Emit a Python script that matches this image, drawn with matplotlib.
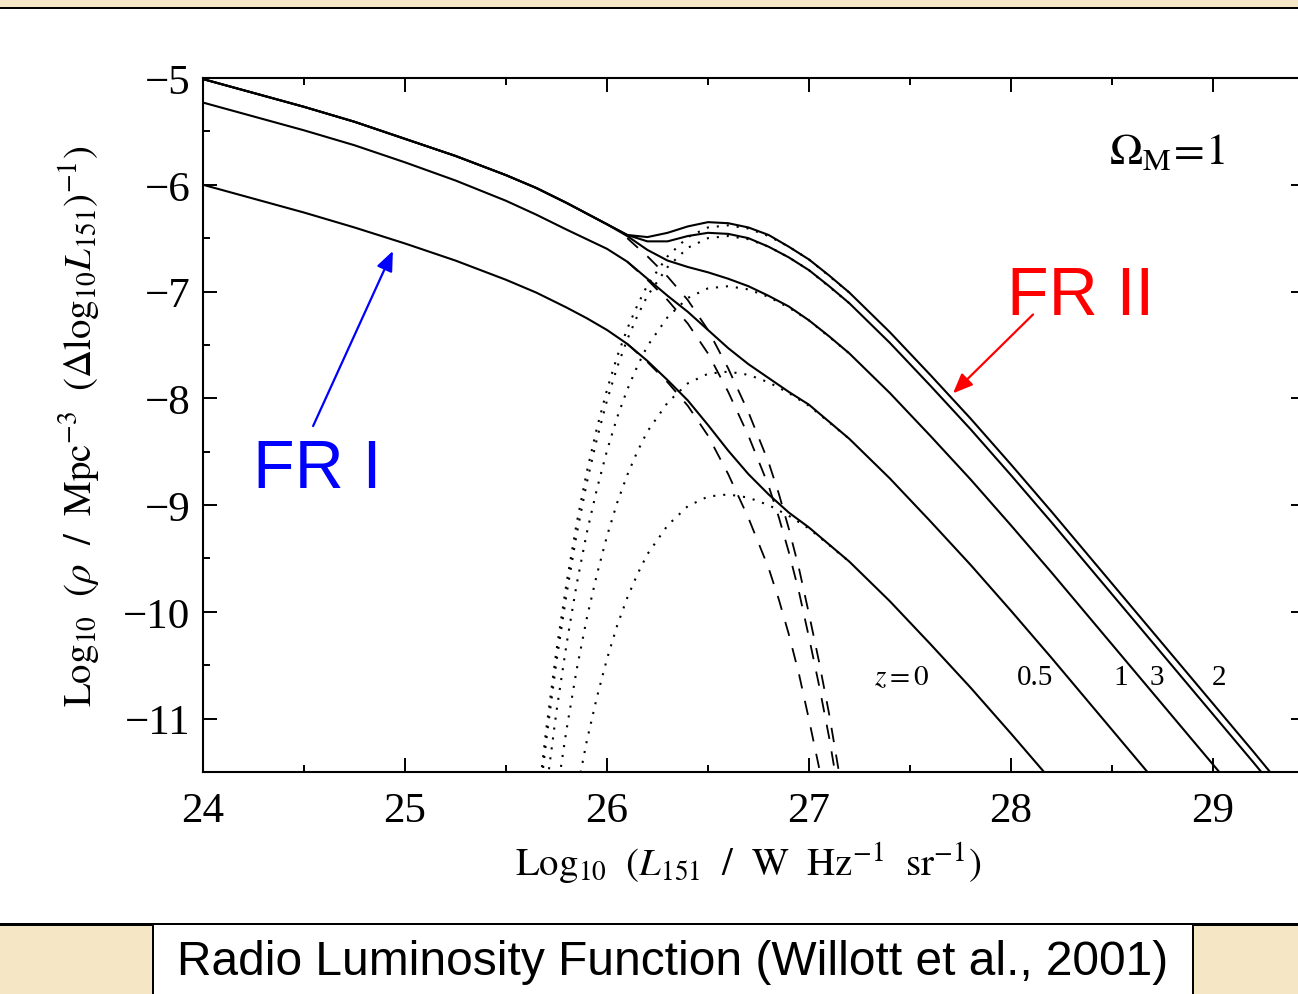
import numpy as np
import matplotlib as mpl
mpl.use('Agg')
from matplotlib import pyplot as plt
from matplotlib.patches import Rectangle

# log10 L151 grid for the total luminosity functions (solid lines)
logL = [24.0, 24.25, 24.5, 24.75, 25.0, 25.25, 25.5, 25.65, 25.8, 25.9, 26.0,
        26.1, 26.2, 26.3, 26.4, 26.5, 26.6, 26.7, 26.8, 26.9, 27.0, 27.1, 27.2,
        27.4, 27.6, 27.8, 28.0, 28.2, 28.4, 28.6, 28.8, 29.0, 29.2, 29.4]

# total rho at each redshift
total_z0 = [-6.00, -6.13, -6.26, -6.40, -6.55, -6.71, -6.89, -7.01, -7.15, -7.25, -7.36,
            -7.49, -7.65, -7.83, -8.02, -8.25, -8.49, -8.71, -8.90, -9.07, -9.21, -9.37,
            -9.53, -9.90, -10.30, -10.71, -11.14, -11.58]
total_z05 = [-5.23, -5.36, -5.49, -5.63, -5.79, -5.96, -6.15, -6.28, -6.42, -6.51, -6.60,
             -6.72, -6.88, -7.04, -7.19, -7.36, -7.53, -7.68, -7.81, -7.94, -8.06, -8.22,
             -8.38, -8.75, -9.15, -9.56, -9.99, -10.43, -10.88, -11.33, -11.78]
total_z1 = [-5.01, -5.14, -5.27, -5.41, -5.57, -5.73, -5.91, -6.03, -6.17, -6.27, -6.37,
            -6.48, -6.61, -6.71, -6.77, -6.82, -6.88, -6.95, -7.04, -7.14, -7.27, -7.42,
            -7.58, -7.95, -8.35, -8.76, -9.19, -9.63, -10.08, -10.53, -10.98, -11.43,
            -11.88]
total_z2 = [-5.01, -5.14, -5.27, -5.41, -5.57, -5.73, -5.91, -6.03, -6.17, -6.27, -6.37,
            -6.47, -6.49, -6.45, -6.39, -6.35, -6.36, -6.40, -6.47, -6.58, -6.70, -6.85,
            -7.01, -7.38, -7.78, -8.19, -8.62, -9.06, -9.51, -9.96, -10.41, -10.86,
            -11.31, -11.77]
total_z3 = [-5.01, -5.14, -5.27, -5.41, -5.57, -5.73, -5.91, -6.03, -6.17, -6.27, -6.37,
            -6.47, -6.53, -6.53, -6.48, -6.45, -6.46, -6.50, -6.58, -6.68, -6.80, -6.95,
            -7.11, -7.48, -7.88, -8.29, -8.72, -9.16, -9.61, -10.06, -10.51, -10.96,
            -11.41, -11.87]

# low-luminosity (FR I) population, dashed
fr1_logL = [26.1, 26.2, 26.3, 26.4, 26.5, 26.6, 26.7, 26.8, 26.85, 26.9, 26.95,
            27.0, 27.05, 27.1, 27.15, 27.2]
fr1_z0 = [-7.49, -7.66, -7.85, -8.07, -8.35, -8.71, -9.12, -9.59, -9.88, -10.21,
          -10.58, -11.01, -11.46, -11.95]
fr1_z05 = [-6.72, -6.89, -7.08, -7.30, -7.58, -7.94, -8.35, -8.82, -9.11, -9.44,
           -9.81, -10.24, -10.69, -11.18, -11.74]
fr1_z1 = [-6.50, -6.67, -6.86, -7.08, -7.36, -7.72, -8.13, -8.60, -8.89, -9.22,
          -9.59, -10.02, -10.47, -10.96, -11.52, -12.14]

# high-luminosity (FR II) population, dotted
fr2_logL = [25.65, 25.70, 25.75, 25.80, 25.85, 25.90, 25.95, 26.00, 26.05, 26.10, 26.15,
            26.20, 26.30, 26.40, 26.50, 26.60, 26.70, 26.80, 26.90, 27.00, 27.20]
fr2_z2 = [-11.92, -11.09, -10.36, -9.73, -9.17, -8.69, -8.28, -7.92, -7.61, -7.35, -7.13,
          -6.94, -6.67, -6.49, -6.40, -6.38, -6.41, -6.48, -6.58, -6.70, -7.01]
fr2_z3 = [-12.02, -11.19, -10.46, -9.83, -9.27, -8.79, -8.38, -8.02, -7.71, -7.45, -7.23,
          -7.04, -6.77, -6.59, -6.50, -6.48, -6.51, -6.58, -6.68, -6.80, -7.11]
fr2_z1 = [-11.66, -10.93, -10.30, -9.74, -9.26, -8.85, -8.49, -8.18, -7.92, -7.70, -7.51,
          -7.24, -7.06, -6.97, -6.95, -6.98, -7.05, -7.15, -7.27, -7.58]
fr2_z05 = [-11.73, -11.10, -10.54, -10.06, -9.65, -9.29, -8.98, -8.72, -8.50, -8.31,
           -8.04, -7.86, -7.77, -7.75, -7.78, -7.85, -7.95, -8.07, -8.38]
fr2_z0 = [-11.69, -11.21, -10.80, -10.44, -10.13, -9.87, -9.65, -9.46, -9.19, -9.01,
          -8.92, -8.90, -8.93, -9.00, -9.10, -9.22, -9.53]

z_labels = ['$z=0$', '0.5', '1', '3', '2']
z_label_x = [27.46, 28.12, 28.545, 28.72, 29.03]

W, H = 1298, 995
parchment = '#f5e6c6'

plt.rcParams['mathtext.fontset'] = 'stix'
fig = plt.figure(figsize=(W / 100, H / 100), dpi=100)
fig.patch.set_facecolor('white')


def px_rect(x0, y0, x1, y1, **kw):
    # rectangle given in pixel coords from top-left corner
    fig.add_artist(Rectangle((x0 / W, 1 - y1 / H), (x1 - x0) / W, (y1 - y0) / H,
                             transform=fig.transFigure, **kw))


# slide frame: parchment strips, black rules and caption box
px_rect(0, 0, W, 7.5, facecolor=parchment, edgecolor='none')
px_rect(0, 7.5, W, 10, facecolor='black', edgecolor='none')
px_rect(0, 926, W, H, facecolor=parchment, edgecolor='none')
px_rect(0, 923.5, W, 926.5, facecolor='black', edgecolor='none')
px_rect(153, 926, 1193, H, facecolor='white', edgecolor='none')
px_rect(151.5, 926, 153.5, H, facecolor='black', edgecolor='none')
px_rect(1192, 926, 1194, H, facecolor='black', edgecolor='none')
fig.text(673 / W, 1 - 963 / H, 'Radio Luminosity Function (Willott et al., 2001)',
         ha='center', va='center', fontsize=34.5, family='Liberation Sans')

ax = fig.add_axes([203 / W, 1 - 773 / H, 1102 / W, 694 / H])

for v in [fr2_z0, fr2_z05, fr2_z1, fr2_z3, fr2_z2]:
    ax.plot(fr2_logL[-len(v):], v, color='black', lw=1.5, linestyle=(0, (1, 3.8)))
for v in [fr1_z0, fr1_z05, fr1_z1]:
    ax.plot(fr1_logL[:len(v)], v, color='black', lw=1.3, linestyle=(0, (8, 7)))
for v in [total_z0, total_z05, total_z1, total_z3, total_z2]:
    ax.plot(logL[:len(v)], v, color='black', lw=1.5)

ax.set_xlim(24, 24 + 1102 / 202)
ax.set_ylim(-11.5, -5)
ax.set_xticks(np.arange(24, 30, 1))
ax.set_xticks(np.arange(24, 29.5, 0.5), minor=True)
ax.set_yticks(np.arange(-11, -4, 1))
ax.set_yticks(np.arange(-11.5, -4.9, 0.5), minor=True)
ax.tick_params(which='both', direction='in', top=True, right=True, width=1.4,
               labelsize=31)
ax.tick_params(which='major', length=10)
ax.tick_params(which='minor', length=5)
ax.tick_params(axis='x', pad=14)
ax.tick_params(axis='y', pad=9)
for lab in ax.get_xticklabels() + ax.get_yticklabels():
    lab.set_family('Liberation Serif')
for s in ax.spines.values():
    s.set_linewidth(1.5)

ax.set_xlabel(r'$\mathrm{Log}_{10}\ \ (L_{151}\ \ /\ \ \mathrm{W\ \ Hz^{-1}\ \ sr^{-1}})$',
              fontsize=28)
ax.xaxis.set_label_coords(0.495, -0.098)
ax.set_ylabel(r'$\mathrm{Log}_{10}\ \ (\rho\ \ /\ \ \mathrm{Mpc^{-3}}\ \ '
              r'(\Delta\mathrm{log}_{10}L_{151})^{-1})$', fontsize=28)
ax.yaxis.set_label_coords(-0.092, 0.5)

ax.text(28.77, -5.68, r'$\Omega_{\mathrm{M}}\!=\!1$', fontsize=32,
        ha='center', va='center')
for lab, x in zip(z_labels, z_label_x):
    ax.text(x, -10.61, lab, fontsize=21, ha='center', va='center',
            family='Liberation Serif')

ax.text(24.248, -8.83, 'FR I', color='#0000ff', fontsize=49,
        family='Liberation Sans', ha='left', va='baseline')
ax.text(27.98, -7.206, 'FR II', color='#ff0000', fontsize=49,
        family='Liberation Sans', ha='left', va='baseline')
ax.annotate('', xy=(24.94, -6.62), xytext=(24.545, -8.26),
            arrowprops=dict(arrowstyle='-|>,head_length=0.6,head_width=0.25',
                            color='#0000ff', lw=1.6, mutation_scale=20,
                            shrinkA=0, shrinkB=0))
ax.annotate('', xy=(27.713, -7.953), xytext=(28.109, -7.215),
            arrowprops=dict(arrowstyle='-|>,head_length=0.6,head_width=0.25',
                            color='#ff0000', lw=1.6, mutation_scale=20,
                            shrinkA=0, shrinkB=0))

fig.savefig('out.png', dpi=100)
